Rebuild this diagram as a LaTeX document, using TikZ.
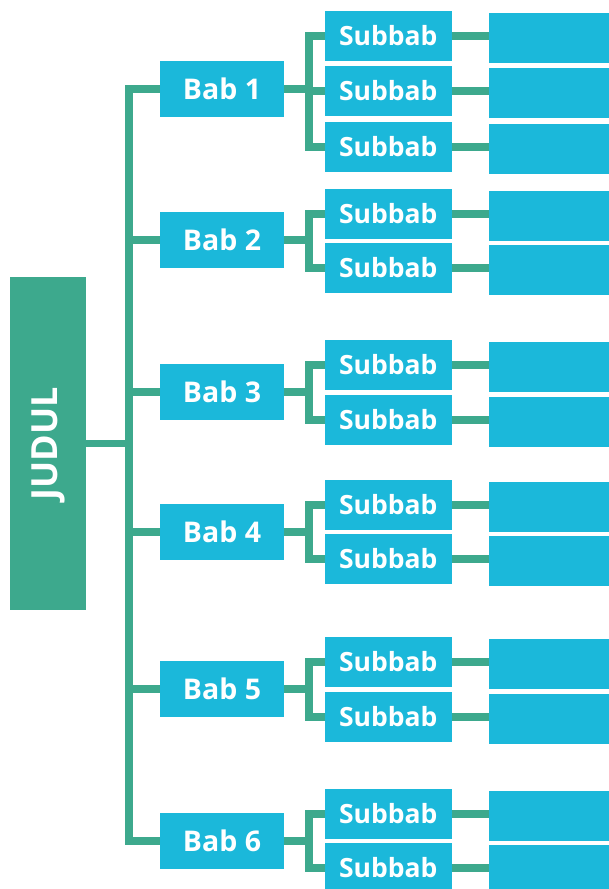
\documentclass[tikz,border=0pt]{standalone}
\usepackage{fontspec}
\setmainfont{Open Sans}
\usepackage{graphicx}
\usetikzlibrary{backgrounds}
\definecolor{cblue}{RGB}{27,184,218}
\definecolor{cgreen}{RGB}{61,169,141}
\tikzset{
  babbox/.style={fill=cblue, text=white, inner sep=0pt, minimum width=124pt, minimum height=56pt,
    font=\fontsize{28.5}{28.5}\selectfont\bfseries, text height=20.5pt, text depth=0pt},
  subbox/.style={fill=cblue, text=white, inner sep=0pt, minimum width=126.7pt, minimum height=50pt,
    font=\fontsize{26.5}{26.5}\selectfont\bfseries, text height=19.5pt, text depth=0pt},
  leafbox/.style={fill=cblue, inner sep=0pt, minimum width=120pt, minimum height=50pt},
  titlebox/.style={fill=cgreen, text=white, inner sep=0pt, minimum width=76pt, minimum height=333pt,
    font=\fontsize{36}{36}\selectfont\bfseries},
  link/.style={draw=cgreen, line width=7.5pt, line join=miter}
}
\begin{document}
\begin{tikzpicture}[x=1pt,y=-1pt]
\clip (0,0) rectangle (609,889);
\node[titlebox] (judul) at (48,443.5) {\rotatebox{90}{JUDUL}};
% Bab nodes
\node[babbox] (b1) at (222,89) {Bab 1};
\node[babbox] (b2) at (222,240) {Bab 2};
\node[babbox] (b3) at (222,392) {Bab 3};
\node[babbox] (b4) at (222,532) {Bab 4};
\node[babbox] (b5) at (222,689) {Bab 5};
\node[babbox] (b6) at (222,841) {Bab 6};
% Subbab nodes
\foreach \n/\y in {1a/36,1b/91,1c/147,2a/214,2b/268,3a/365,3b/420,4a/505,4b/559,5a/662,5b/717,6a/814,6b/868}{
  \node[subbox] (s\n) at (388.3,\y) {Subbab};
  \node[leafbox] (r\n) at (549,\y+1.5) {};
}
\coordinate (mx) at (129,0);
\coordinate (bx) at (309,0);
\begin{scope}[on background layer]
  \fill[white] (0,0) rectangle (609,889);
  \draw[link] (judul.east) -- (judul.east -| mx);
  \draw[link] (b1.west) -- (b1.west -| mx) -- (b6.west -| mx) -- (b6.west);
  \foreach \b in {b2,b3,b4,b5}{
    \draw[link] (\b.west) -- (\b.west -| mx);
  }
  \draw[link] (s1a.west) -- (s1a.west -| bx) -- (s1c.west -| bx) -- (s1c.west);
  \draw[link] (s1b.west) -- (s1b.west -| bx);
  \draw[link] (b1.east) -- (b1.east -| bx);
  \foreach \k in {2,3,4,5,6}{
    \draw[link] (s\k a.west) -- (s\k a.west -| bx) -- (s\k b.west -| bx) -- (s\k b.west);
    \draw[link] (b\k.east) -- (b\k.east -| bx);
  }
  \foreach \n in {1a,1b,1c,2a,2b,3a,3b,4a,4b,5a,5b,6a,6b}{
    \draw[link] (s\n.east) -- (s\n.east -| r\n.west);
  }
\end{scope}
\end{tikzpicture}
\end{document}
